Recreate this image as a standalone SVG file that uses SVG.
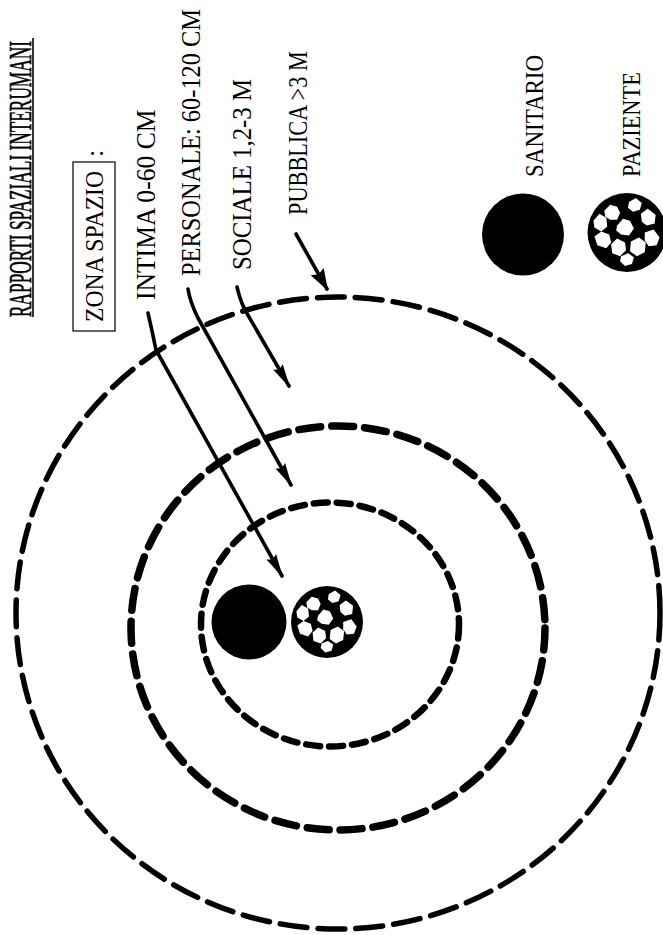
<svg xmlns="http://www.w3.org/2000/svg" xmlns:xlink="http://www.w3.org/1999/xlink" width="663" height="935" viewBox="0 0 663 935">
<style>
.t{font-family:"Liberation Serif","Times New Roman",serif;fill:#000}
.zone{fill:none;stroke:#000;stroke-linecap:round}
.arr{fill:none;stroke:#000;stroke-width:3.6;stroke-linecap:round;stroke-linejoin:round}
</style>
<defs>
<marker id="ah" markerUnits="userSpaceOnUse" markerWidth="40" markerHeight="20" viewBox="-30 -10 40 20" refX="0" refY="0" orient="auto">
<path d="M2,0 L-22,-5.5 L-19,0 L-22,5.5 Z" fill="#000"/>
</marker>
<marker id="ah2" markerUnits="userSpaceOnUse" markerWidth="40" markerHeight="24" viewBox="-30 -12 40 24" refX="0" refY="0" orient="auto">
<path d="M2,0 L-20,-7.5 L-17,0 L-20,7.5 Z" fill="#000"/>
</marker>
<symbol id="blobs" viewBox="-40 -40 80 80" overflow="visible">
<g fill="#fff">
<path d="M-23,-22 L-17,-28 L-10,-26 L-7,-20 L-10,-13 L-17,-13 L-22,-16 Z"/>
<path d="M2,-31 L9,-35 L15,-30 L13,-23 L6,-21 L1,-25 Z"/>
<path d="M14,-19 L21,-24 L29,-18 L28,-9 L20,-7 L15,-11 Z"/>
<path d="M-34,-12 L-28,-19 L-21,-15 L-20,-6 L-26,-1 L-33,-5 Z"/>
<path d="M-10,-7 L-4,-14 L3,-12 L7,-4 L2,3 L-6,2 L-11,-2 Z"/>
<path d="M-33,4 L-26,-1 L-18,2 L-16,10 L-21,16 L-30,13 Z"/>
<path d="M-16,12 L-10,6 L-2,10 L-1,18 L-7,24 L-15,21 Z"/>
<path d="M4,9 L12,5 L19,10 L18,20 L10,24 L3,19 Z"/>
<path d="M18,0 L27,-3 L33,5 L30,13 L22,14 L18,8 Z"/>
<path d="M-6,24 L1,21 L7,25 L5,32 L-2,34 L-7,29 Z"/>
</g>
</symbol>
</defs>

<g id="title">
<text class="t" font-size="31" stroke="#000" stroke-width="0.6" transform="translate(30.5,317) rotate(-90) scale(0.558,1)">RAPPORTI SPAZIALI INTERUMANI</text>
<line x1="33" y1="38" x2="33" y2="317" stroke="#000" stroke-width="1.6"/>
</g>

<g id="zona-spazio">
<rect x="73" y="162" width="42" height="169" fill="none" stroke="#000" stroke-width="1.2"/>
<text class="t" font-size="26" transform="translate(103,322) rotate(-90) scale(0.911,1)">ZONA SPAZIO</text>
<text class="t" font-size="26" transform="translate(103,157) rotate(-90)">:</text>
</g>

<g id="label-intima">
<text class="t" font-size="28" transform="translate(155,300) rotate(-90) scale(0.914,1)">INTIMA 0-60 CM</text>
</g>
<g id="label-personale">
<text class="t" font-size="28" transform="translate(200,276) rotate(-90) scale(0.872,1)">PERSONALE: 60-120 CM</text>
</g>
<g id="label-sociale">
<text class="t" font-size="28" transform="translate(251,270) rotate(-90) scale(0.887,1)">SOCIALE 1,2-3 M</text>
</g>
<g id="label-pubblica">
<text class="t" font-size="28" transform="translate(307,215) rotate(-90) scale(0.797,1)">PUBBLICA &gt;3 M</text>
</g>

<g id="zones">
<ellipse id="zone-pubblica" class="zone" cx="338" cy="613" rx="322" ry="316" stroke-width="5.5" stroke-dasharray="27 11"/>
<ellipse id="zone-sociale" class="zone" cx="338" cy="628" rx="207" ry="202" stroke-width="7.5" stroke-dasharray="22 11"/>
<ellipse id="zone-intima" class="zone" cx="330" cy="624.5" rx="129" ry="122" stroke-width="6.5" stroke-dasharray="14 9"/>
</g>

<g id="sanitario">
<circle cx="249" cy="622" r="37.5" fill="#000"/>
</g>
<g id="paziente">
<circle cx="327" cy="622" r="36" fill="#000"/>
<use xlink:href="#blobs" x="291" y="586" width="72" height="72"/>
</g>

<g id="connectors">
<path class="arr" d="M148,313 Q152,330 156,350 L282,576" marker-end="url(#ah)"/>
<path class="arr" d="M188,289 Q190,302 198,318 L291,485" marker-end="url(#ah)"/>
<path class="arr" d="M237,287 Q240,300 245,310 L289,386" marker-end="url(#ah)"/>
<path class="arr" d="M296,234 L327,289" stroke-width="7" marker-end="url(#ah2)"/>
</g>

<g id="legend-sanitario">
<circle cx="523" cy="234.5" r="41" fill="#000"/>
<text class="t" font-size="25" transform="translate(543,177) rotate(-90) scale(0.921,1)">SANITARIO</text>
</g>
<g id="legend-paziente">
<circle cx="627" cy="232.5" r="39.5" fill="#000"/>
<use xlink:href="#blobs" x="587.5" y="193" width="79" height="79"/>
<text class="t" font-size="25" transform="translate(640,177) rotate(-90) scale(0.896,1)">PAZIENTE</text>
</g>
</svg>
